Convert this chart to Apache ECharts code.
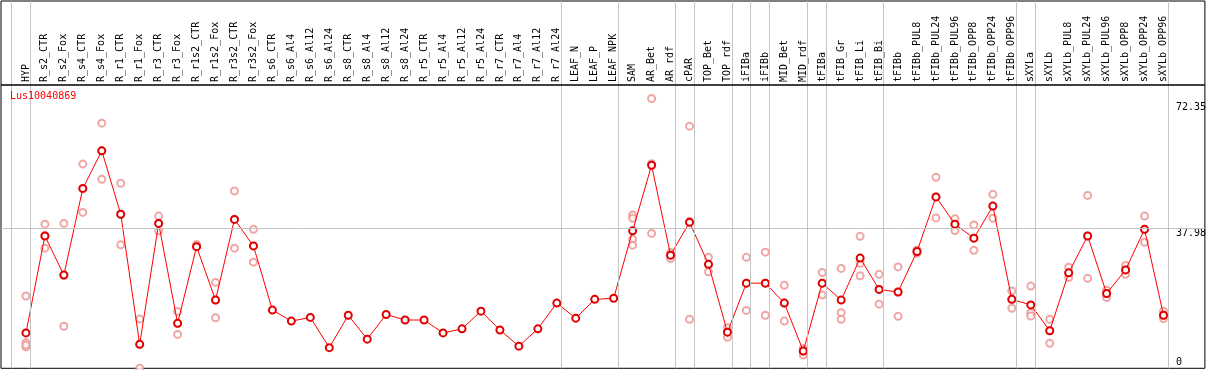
<!DOCTYPE html>
<html>
<head>
<meta charset="utf-8">
<script src="https://cdn.jsdelivr.net/npm/echarts@6/dist/echarts.min.js"></script>
<style>html,body{margin:0;padding:0;background:#fff}#c{width:1209px;height:370px}</style>
</head>
<body>
<div id="c"></div>
<script>
const categories = ["HYP","R_s2_CTR","R_s2_Fox","R_s4_CTR","R_s4_Fox","R_r1_CTR","R_r1_Fox","R_r3_CTR","R_r3_Fox","R_r1s2_CTR","R_r1s2_Fox","R_r3s2_CTR","R_r3s2_Fox","R_s6_CTR","R_s6_Al4","R_s6_Al12","R_s6_Al24","R_s8_CTR","R_s8_Al4","R_s8_Al12","R_s8_Al24","R_r5_CTR","R_r5_Al4","R_r5_Al12","R_r5_Al24","R_r7_CTR","R_r7_Al4","R_r7_Al12","R_r7_Al24","LEAF_N","LEAF_P","LEAF_NPK","SAM","AR_Bet","AR_rdf","cPAR","TOP_Bet","TOP_rdf","iFIBa","iFIBb","MID_Bet","MID_rdf","tFIBa","tFIB_Gr","tFIB_Li","tFIB_Bi","tFIBb","tFIBb_PUL8","tFIBb_PUL24","tFIBb_PUL96","tFIBb_OPP8","tFIBb_OPP24","tFIBb_OPP96","sXYLa","sXYLb","sXYLb_PUL8","sXYLb_PUL24","sXYLb_PUL96","sXYLb_OPP8","sXYLb_OPP24","sXYLb_OPP96"];

const meanValues = [9.6,35.9,25.3,48.8,59.0,41.8,6.5,39.3,12.2,33.0,18.5,40.4,33.2,15.8,12.8,13.8,5.6,14.4,7.9,14.6,13.1,13.1,9.6,10.7,15.5,10.4,6.0,10.7,17.7,13.6,18.7,19.0,37.3,55.1,30.7,39.6,28.2,9.8,23.1,23.1,17.7,4.7,23.1,18.5,29.9,21.4,20.7,31.7,46.5,39.1,35.3,44.0,18.7,17.2,10.2,25.9,35.9,20.3,26.7,37.7,14.4];

const replicates = [
  [19.6,6.9,5.8,6.3],[39.1,32.6,36.0],[39.3,11.4,25.2],[55.4,42.3,48.7],[66.5,51.3,59.0],
  [50.2,33.5,41.8],[13.4,0.0,6.5],[41.3,37.3,39.3],[15.4,9.2,12.2],[33.6,33.2,33.0],
  [23.3,13.7,18.5],[48.1,32.6,40.4],[37.7,28.8,33.2],[],[],[],[],[],[],[],[],[],[],[],[],[],[],[],[],[],[],[],
  [41.6,40.7,35.0,33.4],[73.2,36.6,55.5],[31.4,29.8,30.7],[65.7,13.3,39.8],[30.1,26.2,28.2],
  [11.0,8.4,9.8],[30.1,15.7,23.1],[31.5,14.4,23.1],[22.5,12.8,17.7],[5.4,3.6,4.7],
  [26.0,19.9,23.1],[27.1,15.1,13.3],[35.8,28.5,25.1],[25.5,17.4,21.4],[27.5,14.1,20.7],
  [32.1,31.2,31.7],[51.8,40.8,46.5],[40.6,37.4,39.1],[38.9,32.0,35.3],[47.2,40.7,44.0],
  [21.0,16.3,18.7],[22.3,15.1,14.2],[13.3,6.8,10.2],[27.4,24.6,25.9],[46.9,24.4,35.9],
  [21.2,19.2,20.3],[27.9,25.5,26.7],[41.3,34.2,37.7],[15.5,13.5,14.4]
];

const groupEnds = [-1,0,28,31,34,35,37,38,39,41,42,45,52,53,60];
const yTickValues = [0, 37.98, 72.35];
const referenceLine = 37.98;
const geneName = "Lus10040869";

const FONT = "DejaVu Sans Mono";
const gridTop = 1, gridBottomY = 368.3, pxPerUnit = 3.686, headerY = 85;
const yMax = (gridBottomY - gridTop) / pxPerUnit;
const headerValue = (gridBottomY - headerY) / pxPerUnit;
const step = 19, firstX = 26, gridLeft = 1, gridRightX = 1207.5;
const xMin = (gridLeft - firstX) / step, xMax = (gridRightX - firstX) / step;

const meanData = meanValues.map((v, i) => [i, v]);
const repData = [];
replicates.forEach((arr, i) => arr.forEach(v => repData.push([i, v])));

const chart = echarts.init(document.getElementById('c'), null, {renderer: 'canvas'});
chart.setOption({
  animation: false,
  backgroundColor: '#fff',
  title: {
    text: geneName, left: 10, top: 91, padding: 0,
    textStyle: {color: '#ff0000', fontSize: 10, fontWeight: 'normal', fontFamily: FONT}
  },
  grid: {
    left: gridLeft, top: gridTop, width: gridRightX - gridLeft, height: gridBottomY - gridTop,
    show: true, borderColor: '#000', borderWidth: 1, backgroundColor: 'transparent'
  },
  xAxis: {
    type: 'value', position: 'top', offset: -(headerY - gridTop), min: xMin, max: xMax,
    axisLine: {show: false},
    axisTick: {show: false},
    splitLine: {show: false},
    axisLabel: {
      customValues: categories.map((c, i) => i),
      rotate: 90, margin: 3, fontSize: 10, fontFamily: FONT, color: '#000',
      formatter: v => categories[Math.round(v)] || ''
    }
  },
  yAxis: {
    type: 'value', position: 'right', min: 0, max: yMax,
    axisLine: {show: false}, axisTick: {show: false}, splitLine: {show: false},
    axisLabel: {
      customValues: yTickValues, inside: true, align: 'left', margin: 29,
      fontSize: 10, fontFamily: FONT, color: '#000', verticalAlign: 'middle',
      formatter: v => v === 0 ? '{b|0}' : '{t|' + v + '}',
      rich: {
        t: {padding: [11, 0, 0, 0], fontSize: 10, fontFamily: FONT, color: '#000'},
        b: {padding: [0, 0, 12, 0], fontSize: 10, fontFamily: FONT, color: '#000'}
      }
    }
  },
  series: [
    {
      type: 'scatter', data: repData, symbol: 'emptyCircle', symbolSize: 7,
      itemStyle: {color: '#ee9090', borderColor: '#ee9090', borderWidth: 1.5},
      z: 2, silent: true
    },
    {
      type: 'line', data: meanData, symbol: 'emptyCircle', symbolSize: 7,
      lineStyle: {color: '#ff0000', width: 1},
      itemStyle: {color: '#e00000', borderColor: '#e00000', borderWidth: 1.8},
      z: 3, silent: true,
      markLine: {
        silent: true, symbol: 'none', label: {show: false}, animation: false,
        lineStyle: {color: '#c4c4c4', width: 1, type: 'solid'},
        data: groupEnds.map(g => ({xAxis: g + 0.23}))
          .concat([{yAxis: referenceLine},
                   {yAxis: headerValue, lineStyle: {color: '#000', width: 1.5, type: 'solid'}}])
      }
    }
  ]
});
</script>
</body>
</html>
